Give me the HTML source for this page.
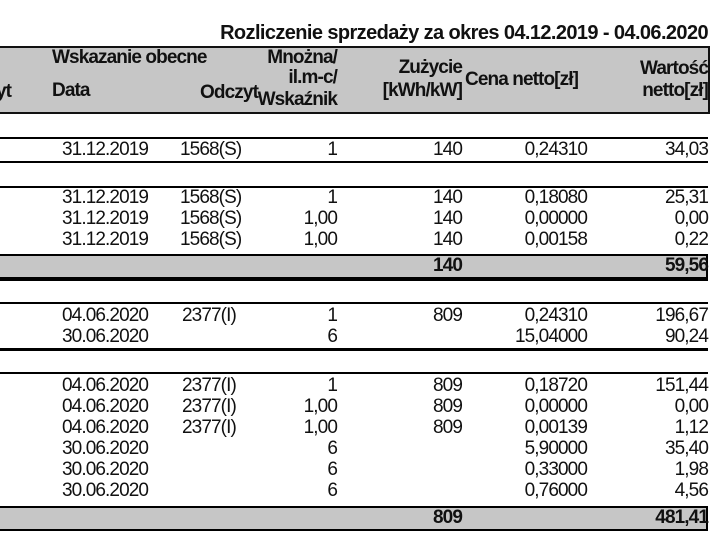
<!DOCTYPE html>
<html><head><meta charset="utf-8"><style>
body{margin:0;width:722px;height:546px;background:#fff;position:relative;overflow:hidden;font-family:"Liberation Sans",Arial,sans-serif;color:#111}
.t{position:absolute;font-size:19px;line-height:20px;height:20px;white-space:nowrap;letter-spacing:-0.9px}
.r{text-align:right}
.b{font-weight:bold}
.h{position:absolute;left:0;width:708px;background:#000}
.g{position:absolute;left:0;width:706px;background:#c6c6c6;border-right:2px solid #000}
</style></head><body>
<div class="t b" style="right:14px;top:23px;font-size:20px;letter-spacing:-0.6px">Rozliczenie sprzedaży za okres 04.12.2019 - 04.06.2020</div>
<div style="position:absolute;left:-2px;top:46px;width:708px;height:64px;background:#c6c6c6;border:2px solid #111"></div>
<div class="t b" style="left:52px;top:48px">Wskazanie obecne</div>
<div class="t b" style="top:82px;left:-4px">yt</div>
<div class="t b" style="left:52px;top:81px">Data</div>
<div class="t b r" style="right:464px;top:83px">Odczyt</div>
<div class="t b r" style="right:385px;top:48px">Mnożna/</div>
<div class="t b r" style="right:385px;top:68px">il.m-c/</div>
<div class="t b r" style="right:385px;top:90px">Wskaźnik</div>
<div class="t b r" style="right:260px;top:58px">Zużycie</div>
<div class="t b r" style="right:260px;top:81px">[kWh/kW]</div>
<div class="t b" style="left:465px;top:70px">Cena netto[zł]</div>
<div class="t b r" style="right:14px;top:59px">Wartość</div>
<div class="t b r" style="right:14px;top:81px">netto[zł]</div>

<div class="h" style="top:137px;height:2px"></div>
<div class="h" style="top:161px;height:2px"></div>
<div class="h" style="top:186px;height:2px"></div>
<div class="g" style="top:254px;height:23px;border-top:2px solid #000"></div>
<div class="h" style="top:277px;height:4px"></div>
<div class="h" style="top:302px;height:2px"></div>
<div class="h" style="top:348px;height:3px"></div>
<div class="h" style="top:372px;height:2px"></div>
<div class="g" style="top:506px;height:23px;border-top:2px solid #000"></div>
<div class="h" style="top:529px;height:2px"></div>

<div class="t" style="left:62px;top:140px">31.12.2019</div>
<div class="t" style="left:180px;top:140px">1568(S)</div>
<div class="t r" style="right:385px;top:140px">1</div>
<div class="t r" style="right:260px;top:140px">140</div>
<div class="t r" style="right:135px;top:140px">0,24310</div>
<div class="t r" style="right:14px;top:140px">34,03</div>

<div class="t" style="left:62px;top:188px">31.12.2019</div>
<div class="t" style="left:180px;top:188px">1568(S)</div>
<div class="t r" style="right:385px;top:188px">1</div>
<div class="t r" style="right:260px;top:188px">140</div>
<div class="t r" style="right:135px;top:188px">0,18080</div>
<div class="t r" style="right:14px;top:188px">25,31</div>

<div class="t" style="left:62px;top:209px">31.12.2019</div>
<div class="t" style="left:180px;top:209px">1568(S)</div>
<div class="t r" style="right:385px;top:209px">1,00</div>
<div class="t r" style="right:260px;top:209px">140</div>
<div class="t r" style="right:135px;top:209px">0,00000</div>
<div class="t r" style="right:14px;top:209px">0,00</div>

<div class="t" style="left:62px;top:230px">31.12.2019</div>
<div class="t" style="left:180px;top:230px">1568(S)</div>
<div class="t r" style="right:385px;top:230px">1,00</div>
<div class="t r" style="right:260px;top:230px">140</div>
<div class="t r" style="right:135px;top:230px">0,00158</div>
<div class="t r" style="right:14px;top:230px">0,22</div>

<div class="t r b" style="right:260px;top:256px">140</div>
<div class="t r b" style="right:14px;top:256px">59,56</div>

<div class="t" style="left:62px;top:306px">04.06.2020</div>
<div class="t" style="left:182px;top:306px">2377(I)</div>
<div class="t r" style="right:385px;top:306px">1</div>
<div class="t r" style="right:260px;top:306px">809</div>
<div class="t r" style="right:135px;top:306px">0,24310</div>
<div class="t r" style="right:14px;top:306px">196,67</div>

<div class="t" style="left:62px;top:327px">30.06.2020</div>
<div class="t r" style="right:385px;top:327px">6</div>
<div class="t r" style="right:135px;top:327px">15,04000</div>
<div class="t r" style="right:14px;top:327px">90,24</div>

<div class="t" style="left:62px;top:376px">04.06.2020</div>
<div class="t" style="left:182px;top:376px">2377(I)</div>
<div class="t r" style="right:385px;top:376px">1</div>
<div class="t r" style="right:260px;top:376px">809</div>
<div class="t r" style="right:135px;top:376px">0,18720</div>
<div class="t r" style="right:14px;top:376px">151,44</div>

<div class="t" style="left:62px;top:397px">04.06.2020</div>
<div class="t" style="left:182px;top:397px">2377(I)</div>
<div class="t r" style="right:385px;top:397px">1,00</div>
<div class="t r" style="right:260px;top:397px">809</div>
<div class="t r" style="right:135px;top:397px">0,00000</div>
<div class="t r" style="right:14px;top:397px">0,00</div>

<div class="t" style="left:62px;top:418px">04.06.2020</div>
<div class="t" style="left:182px;top:418px">2377(I)</div>
<div class="t r" style="right:385px;top:418px">1,00</div>
<div class="t r" style="right:260px;top:418px">809</div>
<div class="t r" style="right:135px;top:418px">0,00139</div>
<div class="t r" style="right:14px;top:418px">1,12</div>

<div class="t" style="left:62px;top:439px">30.06.2020</div>
<div class="t r" style="right:385px;top:439px">6</div>
<div class="t r" style="right:135px;top:439px">5,90000</div>
<div class="t r" style="right:14px;top:439px">35,40</div>

<div class="t" style="left:62px;top:460px">30.06.2020</div>
<div class="t r" style="right:385px;top:460px">6</div>
<div class="t r" style="right:135px;top:460px">0,33000</div>
<div class="t r" style="right:14px;top:460px">1,98</div>

<div class="t" style="left:62px;top:481px">30.06.2020</div>
<div class="t r" style="right:385px;top:481px">6</div>
<div class="t r" style="right:135px;top:481px">0,76000</div>
<div class="t r" style="right:14px;top:481px">4,56</div>

<div class="t r b" style="right:260px;top:508px">809</div>
<div class="t r b" style="right:14px;top:508px">481,41</div>
</body></html>
